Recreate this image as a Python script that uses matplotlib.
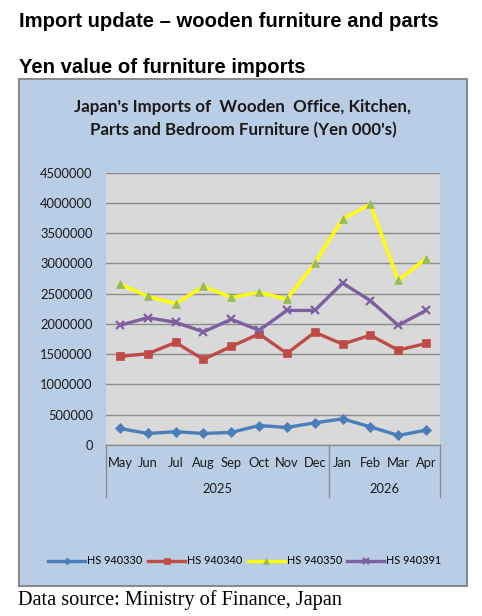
import matplotlib
matplotlib.use("Agg")
import matplotlib.pyplot as plt
import matplotlib.transforms as mtransforms
from matplotlib.patches import Rectangle
from matplotlib.lines import Line2D

months = ["May", "Jun", "Jul", "Aug", "Sep", "Oct", "Nov", "Dec", "Jan", "Feb", "Mar", "Apr"]
years = ["2025", "2026"]
year_spans = [(0, 7), (8, 11)]
series_names = ["HS 940330", "HS 940340", "HS 940350", "HS 940391"]
hs940330 = [273000, 191000, 219000, 191000, 208000, 322000, 290000, 366000, 432000, 300000, 158000, 246000]
hs940340 = [1464000, 1508000, 1694000, 1415000, 1628000, 1836000, 1514000, 1863000, 1667000, 1814000, 1568000, 1678000]
hs940350 = [2659000, 2456000, 2335000, 2621000, 2440000, 2522000, 2412000, 3005000, 3736000, 3978000, 2720000, 3082000]
hs940391 = [1978000, 2104000, 2027000, 1869000, 2077000, 1896000, 2224000, 2224000, 2676000, 2385000, 1978000, 2224000]
yticks = [0, 500000, 1000000, 1500000, 2000000, 2500000, 3000000, 3500000, 4000000, 4500000]

W, H = 482, 616
fig = plt.figure(figsize=(W / 100, H / 100), dpi=100)
fig.patch.set_facecolor("white")

def fx(px):
    return px / W

def fy(py):
    return 1 - py / H

# headings
fig.text(fx(19), fy(27), "Import update \u2013 wooden furniture and parts", fontsize=14.6,
         fontweight="bold", family="Liberation Sans", ha="left", va="baseline")
fig.text(fx(19), fy(73), "Yen value of furniture imports", fontsize=14.6,
         fontweight="bold", family="Liberation Sans", ha="left", va="baseline")

# panel
panel = Rectangle((fx(18.5), fy(585.5)), fx(467) - fx(18.5), fy(78.5) - fy(585.5),
                  transform=fig.transFigure, facecolor="#B9CDE5", edgecolor="#8A8A8A",
                  linewidth=1.5, zorder=-10)
fig.patches.append(panel)

fig.text(fx(243), fy(112), "Japan's Imports of  Wooden  Office, Kitchen,", fontsize=12.2,
         fontweight="bold", family="Lato", ha="center", va="baseline", color="#1a1a1a")
fig.text(fx(243), fy(135), "Parts and Bedroom Furniture (Yen 000's)", fontsize=12.2,
         fontweight="bold", family="Lato", ha="center", va="baseline", color="#1a1a1a")

# axes
left, right, top, bottom = 106, 440, 172.7, 445
ax = fig.add_axes([fx(left), fy(bottom), fx(right) - fx(left), fy(top) - fy(bottom)], zorder=1)
ax.set_facecolor("#D9D9D9")
ax.set_xlim(-0.5, len(months) - 0.5)
ax.set_ylim(0, 4500000)
ax.set_yticks(yticks)
ax.set_yticklabels([str(v) for v in yticks], family="Lato", fontsize=9.3, color="#1a1a1a")
ax.tick_params(axis="y", length=0, pad=9.5)
ax.set_xticks([])
ax.grid(axis="y", color="#8C8C8C", linewidth=1)
ax.set_axisbelow(True)
for s in ["top", "right", "left"]:
    ax.spines[s].set_visible(False)
ax.spines["bottom"].set_color("#8C8C8C")
ax.spines["bottom"].set_linewidth(1)

styles = [
    (hs940330, "#4A7EBB", "#4A7EBB", "D", 5),
    (hs940340, "#BE4B48", "#BE4B48", "s", 5.5),
    (hs940350, "#FFFF00", "#9BBB59", "^", 6),
    (hs940391, "#7D60A0", "#7D60A0", "x", 6),
]
xs = list(range(len(months)))
handles = []
for (vals, lc, mc, mk, ms), name in zip(styles, series_names):
    ln, = ax.plot(xs, vals, color=lc, linewidth=2.4, marker=mk, markersize=ms,
                  markerfacecolor=mc, markeredgecolor=mc, markeredgewidth=1.6 if mk == "x" else 0.5,
                  label=name, clip_on=False, zorder=3)
    handles.append(ln)

# category axis labels
bt = mtransforms.blended_transform_factory(ax.transData, fig.transFigure)
for i, m in enumerate(months):
    fig.text(i, fy(463), m, transform=bt, ha="center", va="center", family="Lato",
             fontsize=9.3, color="#1a1a1a")
for (a, b), yl in zip(year_spans, years):
    fig.text((a + b) / 2, fy(489), yl, transform=bt, ha="center", va="center", family="Lato",
             fontsize=9.3, color="#1a1a1a")
for xb in [-0.5, 7.5, 11.5]:
    fig.lines.append(Line2D([xb, xb], [fy(445), fy(497)], transform=bt, color="#8C8C8C", linewidth=1))

leg = fig.legend(handles=handles, labels=series_names, loc="center", ncol=4,
                 bbox_to_anchor=(fx(245), fy(561)), frameon=False,
                 prop={"family": "Lato", "size": 7.8}, handlelength=3.4, handletextpad=0.2,
                 columnspacing=0.5, markerscale=0.7)

fig.text(fx(18.5), fy(605), "Data source: Ministry of Finance, Japan", fontsize=14.6,
         family="Liberation Serif", ha="left", va="baseline")

fig.savefig("out.png", dpi=100, facecolor="white")
